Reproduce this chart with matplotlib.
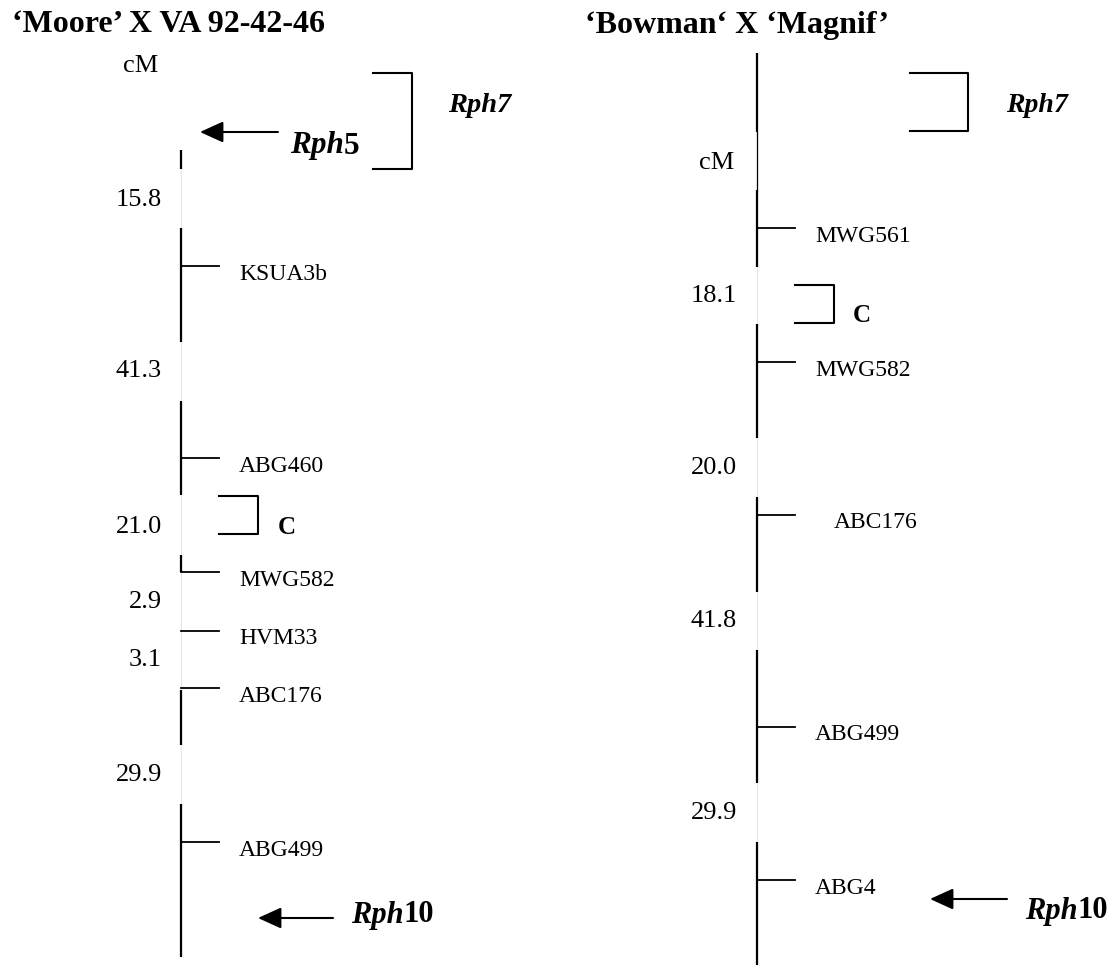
import matplotlib
matplotlib.use('Agg')
import matplotlib.pyplot as plt

# --- data: the two linkage maps ---
left_title = '\u2018Moore\u2019 X VA 92-42-46'
left_markers = ['KSUA3b', 'ABG460', 'MWG582', 'HVM33', 'ABC176', 'ABG499']
left_dists = ['15.8', '41.3', '21.0', '2.9', '3.1', '29.9']

right_title = '\u2018Bowman\u2018 X \u2018Magnif\u2019'
right_markers = ['MWG561', 'MWG582', 'ABC176', 'ABG499', 'ABG4']
right_dists = ['18.1', '20.0', '41.8', '29.9']

# --- layout (pixel positions on the page) ---
W, H = 1113, 973
left_x, right_x = 181, 757
left_marker_y = [266, 458, 572, 631, 688, 842]
left_dist_y = [197, 368, 524, 599, 657, 772]
left_segs = [(150, 169), (228, 342), (401, 495), (555, 572), (690, 745), (804, 957)]
right_marker_y = [228, 362, 515, 727, 880]
right_marker_dx = [0, 0, 19, 0, 0]
right_dist_y = [293, 465, 618, 810]
right_segs = [(53, 132), (190, 267), (324, 438), (497, 592), (650, 783), (842, 965)]

SERIF = 'Liberation Serif'
DY = 3  # centre-aligned text sits a little high because of the descent

fig = plt.figure(figsize=(W / 100, H / 100), dpi=100)
ax = fig.add_axes([0, 0, 1, 1])
ax.set_xlim(0, W)
ax.set_ylim(H, 0)
ax.axis('off')


def chromosome(x, top, bottom, segs):
    # faint guide through the gaps, black where the map is drawn
    ax.plot([x, x], [top, bottom], color='#e6e6e6', lw=0.8, zorder=1)
    for y0, y1 in segs:
        ax.plot([x, x], [y0, y1], color='black', lw=1.6, zorder=2,
                solid_capstyle='butt')


def markers(x, names, ys, dxs=None):
    for i, (name, y) in enumerate(zip(names, ys)):
        dx = dxs[i] if dxs else 0
        ax.plot([x, x + 38], [y, y], color='black', lw=1.3)
        ax.text(x + 58 + dx, y + 5 + DY, name, family=SERIF, fontsize=17,
                ha='left', va='center')


def dists(xr, labels, ys):
    for lab, y in zip(labels, ys):
        ax.text(xr, y + DY, lab, family=SERIF, fontsize=19,
                ha='right', va='center')


def bracket(x0, x1, y0, y1, lw=1.5):
    ax.plot([x0, x1, x1, x0], [y0, y0, y1, y1], color='black', lw=lw)


def gene(x, y, name, num, size, num_italic=False):
    t = ax.text(x, y + DY, name, family=SERIF, fontsize=size, weight='bold',
                style='italic', ha='left', va='center')
    ax.annotate(num, xy=(1, 0), xycoords=t, family=SERIF, fontsize=size,
                weight='bold', style='italic' if num_italic else 'normal',
                ha='left', va='bottom')


def arrow(x_tip, x_tail, y):
    ax.annotate('', xy=(x_tip, y), xytext=(x_tail, y),
                arrowprops=dict(arrowstyle='-|>,head_length=0.55,head_width=0.25',
                                mutation_scale=26, lw=1.5, color='black',
                                shrinkA=0, shrinkB=0))


# left map
ax.text(12, 21 + DY, left_title, family=SERIF, fontsize=23, weight='bold',
        ha='left', va='center')
ax.text(158, 63 + DY, 'cM', family=SERIF, fontsize=19, ha='right', va='center')
chromosome(left_x, 150, 957, left_segs)
markers(left_x, left_markers, left_marker_y)
dists(162, left_dists, left_dist_y)
bracket(373, 412, 73, 169)
gene(448, 103, 'Rph', '7', 20.5, num_italic=True)
arrow(200, 278, 132)
gene(290, 143, 'Rph', '5', 22.5)
bracket(219, 258, 496, 534)
ax.text(278, 524 + DY, 'C', family=SERIF, fontsize=18, weight='bold',
        ha='left', va='center')
arrow(258, 333, 918)
gene(351, 912, 'Rph', '10', 22)

# right map
ax.text(585, 23 + DY, right_title, family=SERIF, fontsize=23, weight='bold',
        ha='left', va='center')
ax.text(734, 160 + DY, 'cM', family=SERIF, fontsize=19, ha='right', va='center')
chromosome(right_x, 53, 965, right_segs)
ax.plot([right_x, right_x], [132, 190], color='black', lw=0.9)
markers(right_x, right_markers, right_marker_y, right_marker_dx)
dists(737, right_dists, right_dist_y)
bracket(910, 968, 73, 131)
gene(1006, 103, 'Rph', '7', 20, num_italic=True)
bracket(795, 834, 285, 323)
ax.text(853, 312 + DY, 'C', family=SERIF, fontsize=18, weight='bold',
        ha='left', va='center')
arrow(930, 1007, 899)
gene(1025, 908, 'Rph', '10', 22)

fig.savefig('out.png', dpi=100)
